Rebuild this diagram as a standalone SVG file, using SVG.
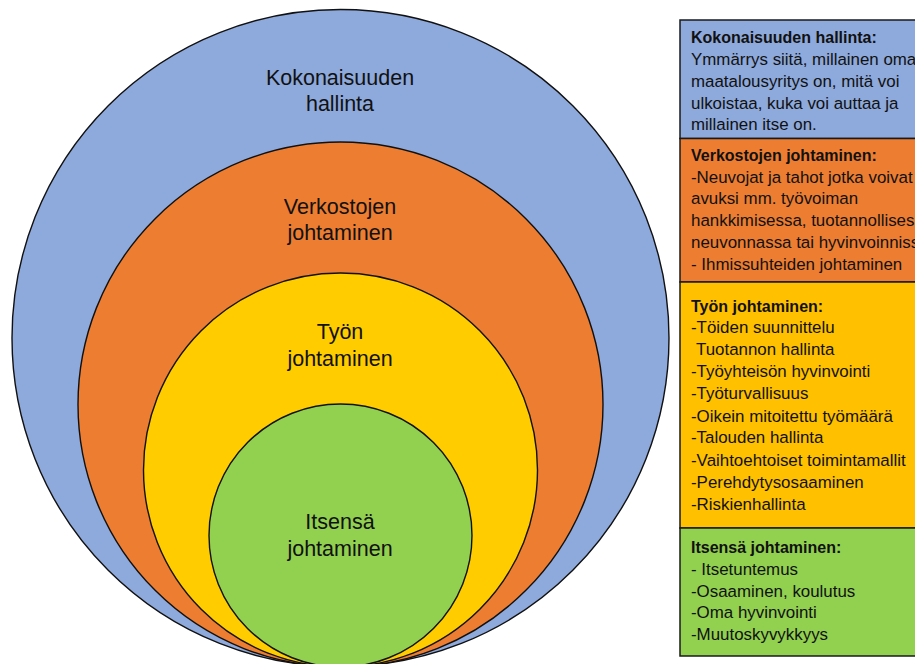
<svg xmlns="http://www.w3.org/2000/svg" width="915" height="664" viewBox="0 0 915 664">
<style>
.c{stroke:#111;stroke-width:1.4}
.cl{font-family:"Liberation Sans",Arial,sans-serif;font-size:21.5px;fill:#111;text-anchor:middle}
.b{stroke:#1a1a1a;stroke-width:1.5}
.t{font-family:"Liberation Sans",Arial,sans-serif;font-size:16.9px;fill:#111}
.h{font-weight:bold;font-size:16px}
</style>
<rect width="915" height="664" fill="#fff"/>
<g id="outer">
<circle class="c" cx="340.5" cy="338" r="328.5" fill="#8EA9DB"/>
<text class="cl" x="340" y="85">Kokonaisuuden</text>
<text class="cl" x="340" y="111">hallinta</text>
</g>
<g id="network">
<circle class="c" cx="340.5" cy="404.5" r="262.5" fill="#ED7D31"/>
<text class="cl" x="340" y="214">Verkostojen</text>
<text class="cl" x="340" y="240">johtaminen</text>
</g>
<g id="work">
<circle class="c" cx="340.5" cy="470" r="197" fill="#FFCC00"/>
<text class="cl" x="340" y="339">Työn</text>
<text class="cl" x="340" y="366">johtaminen</text>
</g>
<g id="self">
<circle class="c" cx="340.5" cy="535.5" r="131.5" fill="#92D050"/>
<text class="cl" x="340" y="529">Itsensä</text>
<text class="cl" x="340" y="556">johtaminen</text>
</g>
<g id="box1">
<rect class="b" x="680" y="20" width="260" height="118.5" fill="#8EA9DB"/>
<text class="t h" x="691" y="43">Kokonaisuuden hallinta:</text>
<text class="t" x="691" y="65">Ymmärrys siitä, millainen oma</text>
<text class="t" x="691" y="87">maatalousyritys on, mitä voi</text>
<text class="t" x="691" y="108.5">ulkoistaa, kuka voi auttaa ja</text>
<text class="t" x="691" y="130">millainen itse on.</text>
</g>
<g id="box2">
<rect class="b" x="680" y="138.5" width="260" height="143.5" fill="#ED7D31"/>
<text class="t h" x="691" y="161">Verkostojen johtaminen:</text>
<text class="t" x="691" y="182.7">-Neuvojat ja tahot jotka voivat</text>
<text class="t" x="691" y="204.3">avuksi mm. työvoiman</text>
<text class="t" x="691" y="226">hankkimisessa, tuotannollisessa</text>
<text class="t" x="691" y="247.7">neuvonnassa tai hyvinvoinnissa</text>
<text class="t" x="691" y="269.5">- Ihmissuhteiden johtaminen</text>
</g>
<g id="box3">
<rect class="b" x="680" y="282" width="260" height="246" fill="#FFC000"/>
<text class="t h" x="691" y="311.7">Työn johtaminen:</text>
<text class="t" x="691" y="333.3">-Töiden suunnittelu</text>
<text class="t" x="696" y="355">Tuotannon hallinta</text>
<text class="t" x="691" y="376.7">-Työyhteisön hyvinvointi</text>
<text class="t" x="691" y="399">-Työturvallisuus</text>
<text class="t" x="691" y="421.5">-Oikein mitoitettu työmäärä</text>
<text class="t" x="691" y="443.3">-Talouden hallinta</text>
<text class="t" x="691" y="465.5">-Vaihtoehtoiset toimintamallit</text>
<text class="t" x="691" y="488">-Perehdytysosaaminen</text>
<text class="t" x="691" y="510">-Riskienhallinta</text>
</g>
<g id="box4">
<rect class="b" x="680" y="528" width="260" height="128" fill="#92D050"/>
<text class="t h" x="691" y="553.3">Itsensä johtaminen:</text>
<text class="t" x="691" y="575">- Itsetuntemus</text>
<text class="t" x="691" y="596.7">-Osaaminen, koulutus</text>
<text class="t" x="691" y="618.3">-Oma hyvinvointi</text>
<text class="t" x="691" y="640">-Muutoskyvykkyys</text>
</g>
<g id="connectors"></g>
</svg>
